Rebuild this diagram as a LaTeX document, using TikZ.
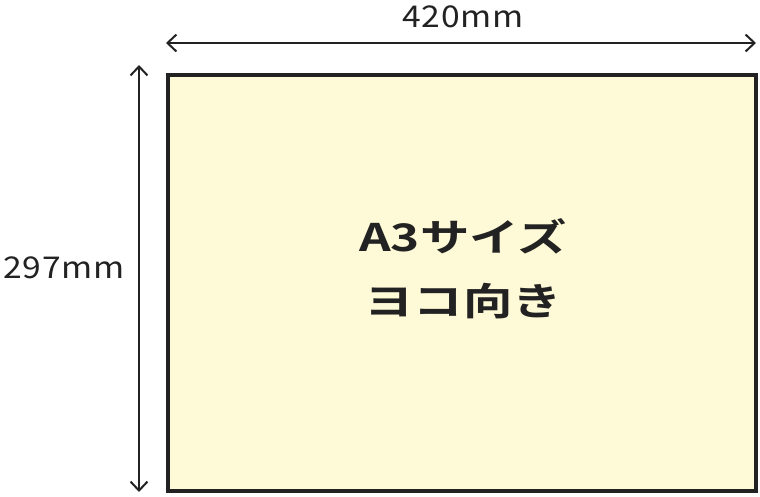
\documentclass[tikz,border=0pt]{standalone}
\usepackage{fontspec}
\setmainfont{Noto Sans CJK JP}
\newfontfamily\jpbold[FakeStretch=1.3]{Noto Sans CJK JP Bold}
\newfontfamily\dimfont[FakeStretch=1.12,LetterSpace=2]{Noto Sans CJK JP}
\usetikzlibrary{arrows.meta}
\definecolor{ink}{HTML}{222222}
\definecolor{paper}{HTML}{FEF9D6}
\begin{document}
\begin{tikzpicture}[x=1pt,y=-1pt,
  dimline/.style={draw=ink,line width=2pt,{Straight Barb[length=9pt,width=17pt,line width=2pt]}-{Straight Barb[length=9pt,width=17pt,line width=2pt]}},
  dimlabel/.style={text=ink,font=\dimfont\fontsize{30}{30}\selectfont,inner sep=0pt},
  sheet/.style={draw=ink,fill=paper,line width=4pt,inner sep=0pt},
  title/.style={text=ink,font=\jpbold\fontsize{38}{64}\selectfont,align=center,inner sep=0pt}]
\useasboundingbox (0,0) rectangle (760,496);
\node[sheet,minimum width=588pt,minimum height=416pt] (sheet) at (462,283) {};
\coordinate (tl) at (166,43);
\coordinate (tr) at (756,43);
\coordinate (lt) at (139,65);
\coordinate (lb) at (139,492);
\draw[dimline] (tl) -- (tr);
\draw[dimline] (lt) -- (lb);
\node[dimlabel] (w) at (463,17) {420mm};
\node[dimlabel] (h) at (64,268) {297mm};
\node[title] (t) at (463,269) {A3サイズ\\ヨコ向き};
\end{tikzpicture}
\end{document}
